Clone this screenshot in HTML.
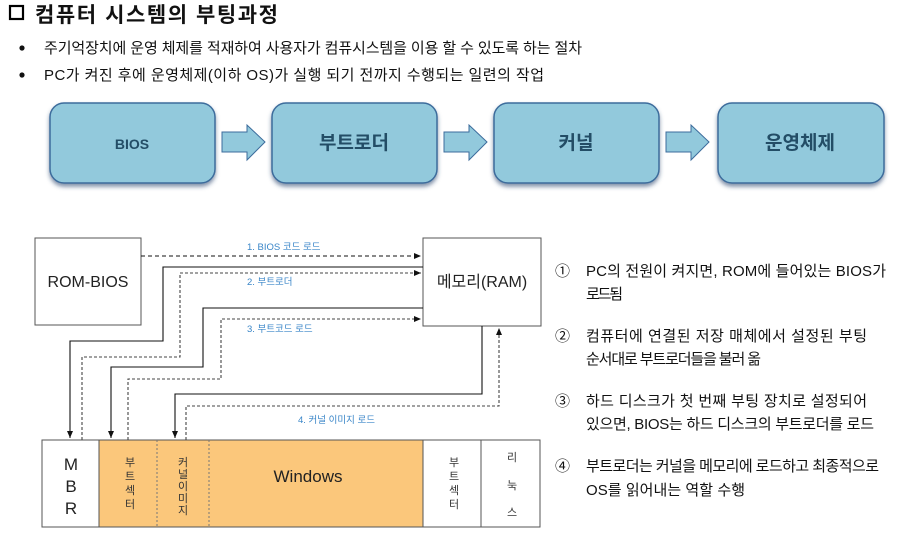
<!DOCTYPE html>
<html><head><meta charset="utf-8"><style>
html,body{margin:0;padding:0;background:#fff;width:909px;height:540px;overflow:hidden}
svg{display:block}
text{font-family:"Liberation Sans","Noto Sans CJK KR",sans-serif}
</style></head><body>
<svg width="909" height="540" viewBox="0 0 909 540" xmlns="http://www.w3.org/2000/svg">
<defs>
<marker id="ah" markerWidth="8" markerHeight="8" refX="7" refY="4" orient="auto" markerUnits="userSpaceOnUse"><path d="M0,1 L7,4 L0,7 Z" fill="#111"/></marker>
<filter id="sh" x="-10%" y="-10%" width="120%" height="130%"><feDropShadow dx="0" dy="3" stdDeviation="2" flood-color="#2a4a70" flood-opacity="0.6"/></filter>
</defs>
<rect x="10" y="6" width="13" height="13" fill="none" stroke="#000" stroke-width="2.2"/>
<text x="35" y="22" font-size="21" font-weight="bold" fill="#111" textLength="243">컴퓨터 시스템의 부팅과정</text>
<circle cx="22" cy="48" r="2.6" fill="#111"/>
<circle cx="22" cy="75" r="2.6" fill="#111"/>
<text x="44" y="53" font-size="15" fill="#111" textLength="538">주기억장치에 운영 체제를 적재하여 사용자가 컴퓨시스템을 이용 할 수 있도록 하는 절차</text>
<text x="44" y="80" font-size="15" fill="#111" textLength="500">PC가 켜진 후에 운영체제(이하 OS)가 실행 되기 전까지 수행되는 일련의 작업</text>
<g fill="#92c9dc" stroke="#3c6c9c" stroke-width="1.5" filter="url(#sh)">
<rect x="50" y="103" width="165" height="80" rx="14"/>
<rect x="272" y="103" width="165" height="80" rx="14"/>
<rect x="494" y="103" width="165" height="80" rx="14"/>
<rect x="718" y="103" width="166" height="80" rx="14"/>
</g>
<g fill="#92c9dc" stroke="#3c6c9c" stroke-width="1">
<path d="M222,132 H247 V125 L265,142 L247,160 V152 H222 Z"/>
<path d="M444,132 H469 V125 L487,142 L469,160 V152 H444 Z"/>
<path d="M666,132 H691 V125 L709,142 L691,160 V152 H666 Z"/>
</g>
<g fill="#234d66" font-weight="bold" text-anchor="middle">
<text x="132" y="149" font-size="14">BIOS</text>
<text x="354" y="149" font-size="19">부트로더</text>
<text x="576" y="149" font-size="19">커널</text>
<text x="800" y="149" font-size="19">운영체제</text>
</g>
<g fill="#fff" stroke="#555" stroke-width="1">
<rect x="35" y="238" width="106" height="87"/>
<rect x="423" y="238" width="118" height="88"/>
</g>
<text x="88" y="287" font-size="16" text-anchor="middle" fill="#222">ROM-BIOS</text>
<text x="482" y="287" font-size="16" text-anchor="middle" fill="#222">메모리(RAM)</text>
<rect x="42" y="440" width="498" height="87" fill="#fff" stroke="#555"/>
<rect x="99" y="440" width="324" height="87" fill="#fbc77b" stroke="#555"/>
<line x1="157" y1="440" x2="157" y2="527" stroke="#777" stroke-dasharray="2,2"/>
<line x1="209" y1="440" x2="209" y2="527" stroke="#777" stroke-dasharray="2,2"/>
<line x1="481" y1="440" x2="481" y2="527" stroke="#555"/>
<g font-size="17" text-anchor="middle" fill="#222">
<text x="71" y="470">M</text><text x="71" y="492">B</text><text x="71" y="514">R</text>
</g>
<text x="308" y="482" font-size="17" text-anchor="middle" fill="#222">Windows</text>
<g font-size="11" text-anchor="middle" fill="#333">
<text x="130" y="466">부</text><text x="130" y="480">트</text><text x="130" y="494">섹</text><text x="130" y="508">터</text>
<text x="183" y="466">커</text><text x="183" y="478">널</text><text x="183" y="490">이</text><text x="183" y="502">미</text><text x="183" y="514">지</text>
<text x="454" y="466">부</text><text x="454" y="480">트</text><text x="454" y="494">섹</text><text x="454" y="508">터</text>
<text x="512" y="461">리</text><text x="512" y="489">눅</text><text x="512" y="516">스</text>
</g>
<g fill="none" stroke="#111" stroke-width="1.1">
<path d="M141,256 H421" stroke-dasharray="4,3" marker-end="url(#ah)"/>
<path d="M423,267 H163 V341 H70 V438" marker-end="url(#ah)"/>
<path d="M82,440 V357 H180 V273 H421" stroke-dasharray="3,2" stroke="#444" marker-end="url(#ah)"/>
<path d="M423,308 H203 V367 H111 V438" marker-end="url(#ah)"/>
<path d="M128,440 V379 H221 V319 H421" stroke-dasharray="3,2" stroke="#444" marker-end="url(#ah)"/>
<path d="M482,326 V394 H175 V438" marker-end="url(#ah)"/>
<path d="M186,440 V406 H499 V328" stroke-dasharray="3,2" stroke="#444" marker-end="url(#ah)"/>
</g>
<g font-size="9.5" fill="#3a86c8">
<text x="247" y="250">1. BIOS 코드 로드</text>
<text x="247" y="285">2. 부트로더</text>
<text x="247" y="332">3. 부트코드 로드</text>
<text x="298" y="423">4. 커널 이미지 로드</text>
</g>
<g font-size="15" fill="#111">
<text x="555" y="276">①</text>
<text x="586" y="276" textLength="300">PC의 전원이 켜지면, ROM에 들어있는 BIOS가</text>
<text x="586" y="299" textLength="37">로드됨</text>
<text x="555" y="341">②</text>
<text x="586" y="341" textLength="281">컴퓨터에 연결된 저장 매체에서 설정된 부팅</text>
<text x="586" y="364" textLength="175">순서대로 부트로더들을 불러 옮</text>
<text x="555" y="406">③</text>
<text x="586" y="406" textLength="281">하드 디스크가 첫 번째 부팅 장치로 설정되어</text>
<text x="586" y="429" textLength="288">있으면, BIOS는 하드 디스크의 부트로더를 로드</text>
<text x="555" y="471">④</text>
<text x="586" y="471" textLength="293">부트로더는 커널을 메모리에 로드하고 최종적으로</text>
<text x="586" y="495" textLength="159">OS를 읽어내는 역할 수행</text>
</g>
</svg>
</body></html>
